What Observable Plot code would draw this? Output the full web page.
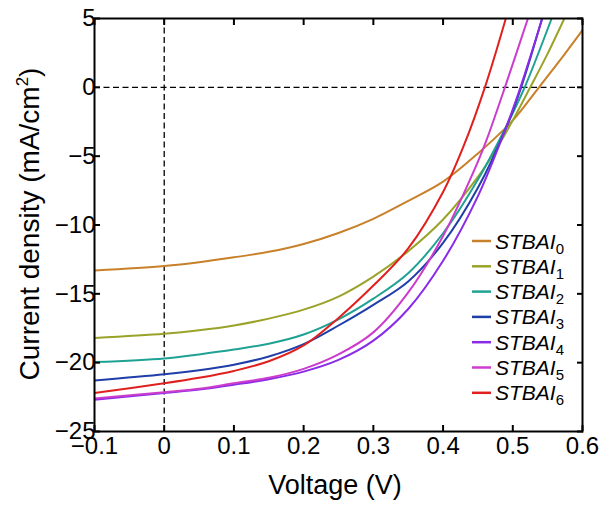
<!DOCTYPE html>
<html>
<head>
<meta charset="utf-8">
<script src="https://cdn.jsdelivr.net/npm/d3@7"></script>
<script src="https://cdn.jsdelivr.net/npm/@observablehq/plot@0.6"></script>
<style>
  html, body { margin: 0; padding: 0; background: #fff; }
  #chart { width: 606px; height: 506px; }
</style>
</head>
<body>
<div id="chart"></div>
<script>
// ---- data ----
const seriesNames = ["STBAI0", "STBAI1", "STBAI2", "STBAI3", "STBAI4", "STBAI5", "STBAI6"];
const seriesColors = ["#c8802a", "#9aa329", "#1fa294", "#1f3ea8", "#8a2be8", "#cc3ccc", "#e0201e"];

const v0 = [-0.1, 0, 0.05, 0.1, 0.15, 0.2, 0.25, 0.3, 0.35, 0.4, 0.45, 0.5, 0.5375, 0.575, 0.6];
const j0 = [-13.3, -12.97, -12.7, -12.35, -11.95, -11.38, -10.58, -9.55, -8.25, -6.85, -4.8, -2.4, 0, 2.45, 4.15];

const v1 = [-0.1, 0, 0.05, 0.1, 0.15, 0.2, 0.25, 0.3, 0.35, 0.4, 0.45, 0.475, 0.5, 0.525, 0.55, 0.574];
const j1 = [-18.2, -17.9, -17.65, -17.3, -16.8, -16.15, -15.2, -13.75, -11.9, -9.6, -6.5, -4.6, -2.4, 0, 2.45, 5];

const v2 = [-0.1, 0, 0.05, 0.1, 0.15, 0.2, 0.25, 0.3, 0.35, 0.4, 0.45, 0.49, 0.517, 0.5557];
const j2 = [-19.96, -19.69, -19.4, -19.05, -18.62, -17.95, -16.85, -15.35, -13.5, -10.6, -6.7, -2.9, 0, 5];

const v3 = [-0.1, 0, 0.05, 0.1, 0.15, 0.2, 0.25, 0.3, 0.35, 0.4, 0.45, 0.49, 0.512, 0.542];
const j3 = [-21.3, -20.85, -20.55, -20.15, -19.55, -18.65, -17.3, -15.8, -14.1, -11.3, -7.3, -3.0, 0, 5];

const v4 = [-0.1, 0, 0.05, 0.1, 0.15, 0.2, 0.25, 0.3, 0.35, 0.4, 0.45, 0.4835, 0.5, 0.511, 0.5423];
const j4 = [-22.7, -22.2, -21.95, -21.6, -21.2, -20.65, -19.8, -18.4, -16.1, -12.6, -7.9, -3.82, -1.6, 0, 5];

const v5 = [-0.1, 0, 0.05, 0.1, 0.15, 0.2, 0.25, 0.3, 0.35, 0.4, 0.45, 0.4624, 0.4887, 0.5217];
const j5 = [-22.6, -22.15, -21.9, -21.5, -21.1, -20.45, -19.4, -17.8, -14.9, -10.8, -5.4, -3.82, 0, 5];

const v6 = [-0.1, 0, 0.05, 0.1, 0.15, 0.2, 0.25, 0.3, 0.35, 0.4, 0.43, 0.46, 0.49];
const j6 = [-22.2, -21.5, -21.1, -20.6, -19.9, -18.75, -16.75, -14.4, -11.7, -7.6, -4.2, 0, 5];

const xTicks = [-0.1, 0, 0.1, 0.2, 0.3, 0.4, 0.5, 0.6];
const xTickLabels = ["\u22120.1", "0", "0.1", "0.2", "0.3", "0.4", "0.5", "0.6"];
const yTicks = [-25, -20, -15, -10, -5, 0, 5];
const yTickLabels = ["\u221225", "\u221220", "\u221215", "\u221210", "\u22125", "0", "5"];
const xLabel = "Voltage (V)";
const yLabelMain = "Current density (mA/cm";
const yLabelSup = "2";
const yLabelEnd = ")";

// ---- build table ----
const vs = [v0, v1, v2, v3, v4, v5, v6];
const js = [j0, j1, j2, j3, j4, j5, j6];
const rows = seriesNames.flatMap((s, i) => vs[i].map((v, k) => ({s, v, j: js[i][k]})));

const fmtX = d => xTickLabels[xTicks.indexOf(d)] ?? String(d);
const fmtY = d => yTickLabels[yTicks.indexOf(d)] ?? String(d);

const FONT = "'Liberation Sans', Arial, Helvetica, sans-serif";

const chart = Plot.plot({
  width: 606,
  height: 506,
  marginLeft: 94,
  marginRight: 24,
  marginTop: 18,
  marginBottom: 75,
  style: {fontFamily: FONT, fontSize: "24px", color: "#000", background: "#fff", overflow: "visible"},
  x: {domain: [-0.1, 0.6]},
  y: {domain: [-25, 5]},
  color: {domain: seriesNames, range: seriesColors},
  marks: [
    Plot.ruleX([0], {stroke: "#000", strokeWidth: 1.3, strokeDasharray: "6,3.5"}),
    Plot.ruleY([0], {stroke: "#000", strokeWidth: 1.3, strokeDasharray: "6,3.5"}),
    Plot.line(rows, {x: "v", y: "j", z: "s", stroke: "s", strokeWidth: 2, curve: "catmull-rom", clip: true}),
    Plot.frame({stroke: "#000", strokeWidth: 2}),
    Plot.axisX({ticks: xTicks, tickFormat: fmtX, tickSize: -6, tickPadding: 11, strokeWidth: 2, label: null}),
    Plot.axisX({anchor: "top", ticks: xTicks, tickFormat: () => "", tickSize: -6, strokeWidth: 2, label: null}),
    Plot.axisY({ticks: yTicks, tickFormat: fmtY, tickSize: -6, tickPadding: 5, strokeWidth: 2, label: null}),
    Plot.axisY({anchor: "right", ticks: yTicks, tickFormat: () => "", tickSize: -6, strokeWidth: 2, label: null})
  ]
});

document.getElementById("chart").appendChild(chart);

// ---- axis titles and legend ----
const svg = d3.select(chart);
svg.append("text")
  .attr("x", 335).attr("y", 494)
  .attr("text-anchor", "middle")
  .attr("font-family", FONT).attr("font-size", 27).attr("fill", "#000")
  .text(xLabel);

const yl = svg.append("text")
  .attr("transform", "translate(39,224) rotate(-90)")
  .attr("text-anchor", "middle")
  .attr("font-family", FONT).attr("font-size", 28).attr("fill", "#000");
yl.append("tspan").text(yLabelMain);
yl.append("tspan").attr("dy", -11).attr("font-size", 17).text(yLabelSup);
yl.append("tspan").attr("dy", 11).text(yLabelEnd);

const leg = svg.append("g");
seriesNames.forEach((name, i) => {
  const cy = 241 + i * 25.3;
  leg.append("line")
    .attr("x1", 472).attr("x2", 491).attr("y1", cy).attr("y2", cy)
    .attr("stroke", seriesColors[i]).attr("stroke-width", 2.5);
  const t = leg.append("text")
    .attr("x", 495).attr("y", cy + 7.5)
    .attr("text-anchor", "start")
    .attr("font-family", FONT).attr("font-size", 21).attr("fill", "#000");
  t.append("tspan").attr("font-style", "italic").text(name.slice(0, 5));
  t.append("tspan").attr("dy", 5).attr("font-size", 15).text(name.slice(5));
});
</script>
</body>
</html>
